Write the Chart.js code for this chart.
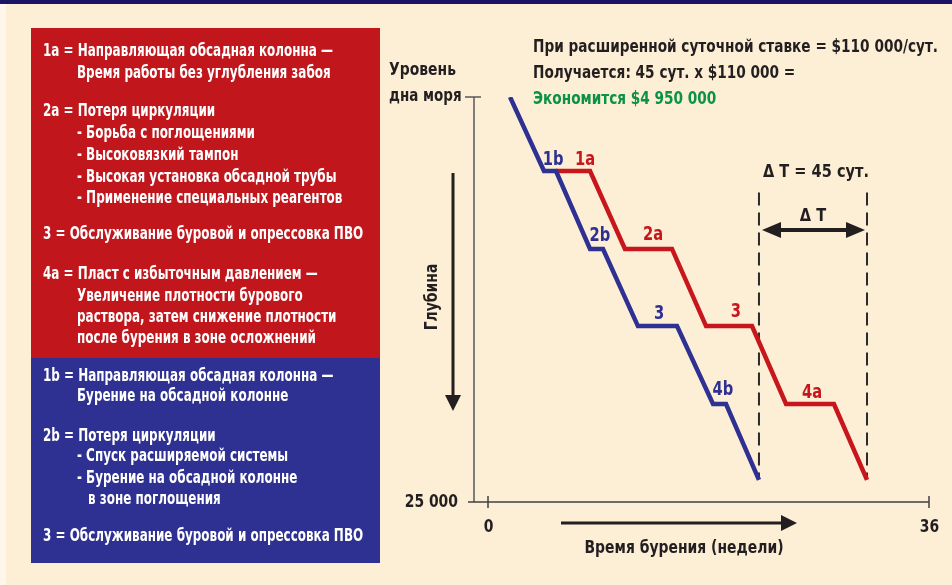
<!DOCTYPE html>
<html>
<head>
<meta charset="utf-8">
<script src="https://cdn.jsdelivr.net/npm/chart.js@4.4.1/dist/chart.umd.min.js"></script>
<style>
  html, body { margin: 0; padding: 0; background: #fdeed6; }
  #wrap { width: 952px; height: 585px; position: relative; }
</style>
</head>
<body>
<div id="wrap"><canvas id="drillChart" width="952" height="585"></canvas></div>
<script>
  // drilling time (weeks) vs depth (ft)
  const blueWeeks = [1.8, 4.57, 5.55, 8.33, 9.39, 12.24, 15.43, 18.37, 19.43, 22.12];
  const blueDepth = [0, 4570, 4570, 9380, 9380, 14140, 14140, 18950, 18950, 23640];
  const redWeeks = [5.55, 8.33, 11.18, 15.02, 17.8, 21.55, 24.33, 28.24, 30.94];
  const redDepth = [4570, 4570, 9380, 9380, 14140, 14140, 18950, 18950, 23640];
  const xTicks = [0, 36];
  const yTickLabels = ['дна моря', '25 000'];

  // step labels on the curves
  const stepText = ['1b', '1a', '2b', '2a', '3', '3', '4b', '4a'];
  const stepWeek = [5.31, 7.92, 9.14, 13.47, 13.96, 20.24, 19.18, 26.45];
  const stepDepth = [3890, 3890, 8580, 8520, 13390, 13270, 18090, 18270];
  const stepSeries = ['b', 'a', 'b', 'a', 'b', 'a', 'b', 'a'];

  const RED = '#c8161d';
  const BLUE = '#2e3192';
  const INK = '#231f20';
  const FONT = '"Liberation Sans Narrow", "DejaVu Sans Condensed", "DejaVu Sans", sans-serif';

  const redNotes = [
    ['1a = Направляющая обсадная колонна —', 43, 52],
    ['Время работы без углубления забоя', 77, 74],
    ['2a = Потеря циркуляции', 43, 112],
    ['- Борьба с поглощениями', 77, 134],
    ['- Высоковязкий тампон', 77, 156],
    ['- Высокая установка обсадной трубы', 77, 178],
    ['- Применение специальных реагентов', 77, 199],
    ['3 = Обслуживание буровой и опрессовка ПВО', 43, 235],
    ['4a = Пласт с избыточным давлением —', 43, 275],
    ['Увеличение плотности бурового', 77, 297],
    ['раствора, затем снижение плотности', 77, 318],
    ['после бурения в зоне осложнений', 77, 339]
  ];
  const blueNotes = [
    ['1b = Направляющая обсадная колонна —', 43, 377],
    ['Бурение на обсадной колонне', 77, 397],
    ['2b = Потеря циркуляции', 43, 437],
    ['- Спуск расширяемой системы', 77, 457],
    ['- Бурение на обсадной колонне', 77, 479],
    ['в зоне поглощения', 88, 500],
    ['3 = Обслуживание буровой и опрессовка ПВО', 43, 537]
  ];

  function toPoints(xs, ys) {
    return xs.map((x, i) => ({ x: x, y: ys[i] }));
  }

  // squeeze factor so the installed font looks like the condensed original
  function squeeze(ctx, font, sample, width) {
    ctx.font = font;
    return width / ctx.measureText(sample).width;
  }

  function narrowText(ctx, text, x, y, sx, align, rot) {
    ctx.save();
    ctx.translate(x, y);
    if (rot) ctx.rotate(rot);
    ctx.scale(sx, 1);
    ctx.textAlign = align || 'left';
    ctx.fillText(text, 0, 0);
    ctx.restore();
  }

  function arrowHead(ctx, x, y, dx, dy, len, half) {
    ctx.beginPath();
    ctx.moveTo(x, y);
    ctx.lineTo(x - dx * len - dy * half, y - dy * len + dx * half);
    ctx.lineTo(x - dx * len + dy * half, y - dy * len - dx * half);
    ctx.closePath();
    ctx.fill();
  }

  const backdrop = {
    id: 'backdrop',
    beforeDraw(chart) {
      const ctx = chart.ctx;
      ctx.save();
      ctx.fillStyle = '#fdeed6';
      ctx.fillRect(0, 0, 952, 585);
      ctx.fillStyle = '#fff7ec';
      ctx.fillRect(0, 0, 6, 585);
      ctx.fillStyle = '#1b1464';
      ctx.fillRect(0, 0, 952, 4);

      ctx.fillStyle = '#c1161c';
      ctx.fillRect(31, 28, 349, 330);
      ctx.fillStyle = BLUE;
      ctx.fillRect(31, 358, 349, 205);

      const f = 'bold 17px ' + FONT;
      const sx = squeeze(ctx, f, redNotes[0][0], 290);
      ctx.fillStyle = '#ffffff';
      ctx.textBaseline = 'middle';
      redNotes.concat(blueNotes).forEach(n => narrowText(ctx, n[0], n[1], n[2], sx));
      ctx.restore();
    }
  };

  const decorations = {
    id: 'decorations',
    afterDatasetsDraw(chart) {
      const ctx = chart.ctx;
      const xs = chart.scales.x, ys = chart.scales.y;
      const x0 = xs.getPixelForValue(xTicks[0]);
      const x1 = xs.getPixelForValue(xTicks[1]);
      const yTop = ys.getPixelForValue(0);
      const yBot = ys.getPixelForValue(25000);
      ctx.save();
      ctx.textBaseline = 'middle';

      // axes
      ctx.strokeStyle = '#58595b';
      ctx.lineWidth = 1.5;
      ctx.beginPath();
      ctx.moveTo(x0 - 14, yTop);
      ctx.lineTo(x0 - 14, yBot);
      ctx.moveTo(x0 - 23, yTop);
      ctx.lineTo(x0 - 7, yTop);
      ctx.stroke();
      ctx.strokeStyle = '#414042';
      ctx.beginPath();
      ctx.moveTo(x0 - 20, yBot);
      ctx.lineTo(x1, yBot);
      xTicks.forEach(t => {
        const p = xs.getPixelForValue(t);
        ctx.moveTo(p, yBot - 6);
        ctx.lineTo(p, yBot + 6);
      });
      ctx.stroke();

      const axisFont = 'bold 18px ' + FONT;
      const sxA = squeeze(ctx, axisFont, 'Время бурения (недели)', 199);
      ctx.fillStyle = INK;
      xTicks.forEach(t => narrowText(ctx, String(t), xs.getPixelForValue(t) + 0.5, yBot + 25, sxA, 'center'));
      narrowText(ctx, yTickLabels[1], x0 - 30, yBot, sxA, 'right');
      narrowText(ctx, yTickLabels[0], 389, yTop - 1, sxA * 0.97, 'left');
      narrowText(ctx, 'Уровень', 389, yTop - 27, sxA, 'left');

      // time arrow + title
      ctx.lineWidth = 3;
      ctx.strokeStyle = INK;
      ctx.beginPath();
      ctx.moveTo(561, yBot + 21);
      ctx.lineTo(782, yBot + 21);
      ctx.stroke();
      arrowHead(ctx, 797, yBot + 21, 1, 0, 16, 8);
      narrowText(ctx, 'Время бурения (недели)', 684, yBot + 46, sxA, 'center');

      // depth arrow + title
      ctx.beginPath();
      ctx.moveTo(453, 173);
      ctx.lineTo(453, 398);
      ctx.stroke();
      arrowHead(ctx, 453, 411, 0, 1, 16, 8);
      narrowText(ctx, 'Глубина', 432, 297, sxA, 'center', -Math.PI / 2);

      // savings text
      const topFont = 'bold 18px ' + FONT;
      const sxT = squeeze(ctx, topFont, 'При расширенной суточной ставке = $110 000/сут.', 405);
      narrowText(ctx, 'При расширенной суточной ставке = $110 000/сут.', 533, 47, sxT);
      narrowText(ctx, 'Получается: 45 сут. x $110 000 =', 533, 73, sxT);
      ctx.fillStyle = '#0a9248';
      narrowText(ctx, 'Экономится $4 950 000', 533, 99, sxT);

      // delta T
      const dA = xs.getPixelForValue(blueWeeks[blueWeeks.length - 1]);
      const dB = xs.getPixelForValue(redWeeks[redWeeks.length - 1]);
      const yArr = ys.getPixelForValue(8210);
      ctx.fillStyle = INK;
      const sxD = squeeze(ctx, topFont, 'Δ T = 45 сут.', 106);
      narrowText(ctx, 'Δ T = 45 сут.', dA + 4, ys.getPixelForValue(4640), sxD);
      narrowText(ctx, 'Δ T', (dA + dB) / 2, yArr - 14, sxD, 'center');
      ctx.lineWidth = 4;
      ctx.beginPath();
      ctx.moveTo(dA + 18, yArr);
      ctx.lineTo(dB - 18, yArr);
      ctx.stroke();
      arrowHead(ctx, dA + 3, yArr, -1, 0, 19, 8);
      arrowHead(ctx, dB - 2, yArr, 1, 0, 19, 8);

      // step labels
      ctx.font = 'bold 20px ' + FONT;
      stepText.forEach((t, i) => {
        ctx.fillStyle = stepSeries[i] === 'a' ? RED : BLUE;
        narrowText(ctx, t, xs.getPixelForValue(stepWeek[i]), ys.getPixelForValue(stepDepth[i]), sxA * 0.95, 'center');
      });
      ctx.restore();
    }
  };

  const endBlue = blueWeeks[blueWeeks.length - 1];
  const endRed = redWeeks[redWeeks.length - 1];

  const ctx = document.getElementById('drillChart').getContext('2d');
  const drillChart = new Chart(ctx, {
    type: 'line',
    data: {
      datasets: [
        {
          label: 'b',
          data: toPoints(blueWeeks, blueDepth),
          borderColor: BLUE,
          borderWidth: 4.5,
          pointRadius: 0,
          order: 0
        },
        {
          label: 'a',
          data: toPoints(redWeeks, redDepth),
          borderColor: RED,
          borderWidth: 4.5,
          pointRadius: 0,
          order: 1
        },
        {
          label: 'dT start',
          data: [{ x: endBlue, y: 5900 }, { x: endBlue, y: 23500 }],
          borderColor: '#2b2b2b',
          borderWidth: 2,
          borderDash: [13, 7],
          pointRadius: 0,
          order: 2
        },
        {
          label: 'dT end',
          data: [{ x: endRed, y: 5900 }, { x: endRed, y: 23500 }],
          borderColor: '#2b2b2b',
          borderWidth: 2,
          borderDash: [13, 7],
          pointRadius: 0,
          order: 2
        }
      ]
    },
    options: {
      responsive: false,
      animation: false,
      layout: { padding: { left: 488, right: 23, top: 97, bottom: 83 } },
      plugins: { legend: { display: false }, tooltip: { enabled: false } },
      scales: {
        x: { type: 'linear', min: 0, max: 36, display: false },
        y: { type: 'linear', min: 0, max: 25000, reverse: true, display: false }
      }
    },
    plugins: [backdrop, decorations]
  });
</script>
</body>
</html>
